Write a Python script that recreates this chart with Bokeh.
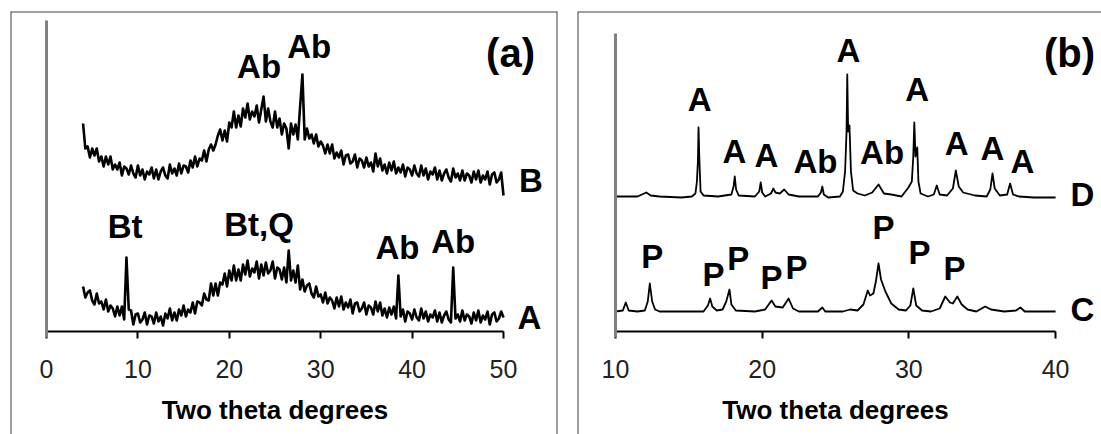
import numpy as np
from bokeh.plotting import figure
from bokeh.models import LinearAxis, FixedTicker, Range1d, ColumnDataSource, Span
from bokeh.layouts import row
from bokeh.embed import file_html
from bokeh.resources import INLINE
from bokeh.core.properties import value

FONT = "Liberation Sans"

# ---------------- panel (a) data ----------------
ticks_a = [0, 10, 20, 30, 40, 50]
# sample B, read every 0.25 degree from 4 to 50 (arbitrary intensity units)
int_B = [
    208, 183, 185, 174, 183, 176, 183, 170, 175, 165, 175, 167, 175, 162, 167, 162,
    169, 156, 165, 163, 157, 166, 158, 154, 166, 156, 162, 152, 160, 157, 164, 153,
    162, 152, 160, 164, 156, 153, 167, 158, 163, 156, 168, 158, 166, 165, 159, 171,
    164, 175, 165, 173, 171, 181, 170, 182, 187, 181, 187, 196, 202, 191, 201, 190,
    209, 204, 220, 204, 216, 205, 223, 214, 228, 212, 220, 215, 226, 209, 222, 235,
    210, 223, 210, 204, 220, 204, 213, 197, 208, 203, 183, 208, 197, 207, 192, 225,
    257, 192, 203, 193, 197, 188, 197, 185, 190, 186, 178, 187, 178, 187, 173, 179,
    174, 181, 167, 176, 177, 168, 170, 177, 164, 173, 171, 164, 174, 165, 169, 160,
    178, 165, 173, 161, 167, 158, 169, 161, 170, 158, 164, 159, 167, 155, 164, 162,
    156, 166, 158, 155, 166, 156, 163, 152, 160, 157, 164, 152, 161, 151, 158, 162,
    154, 150, 163, 154, 158, 151, 161, 151, 158, 156, 149, 160, 152, 161, 149, 156,
    152, 160, 147, 157, 159, 149, 152, 159, 136,
]
# sample A, same sampling
int_A = [
    45, 34, 39, 41, 31, 27, 38, 28, 30, 22, 32, 20, 26, 23, 15, 25,
    16, 25, 12, 74, 22, 21, 7, 17, 18, 9, 12, 19, 7, 16, 15, 8,
    19, 10, 15, 6, 18, 13, 23, 11, 19, 11, 22, 16, 26, 15, 22, 19,
    29, 18, 30, 29, 26, 38, 32, 31, 48, 36, 48, 36, 49, 47, 58, 45,
    61, 51, 66, 51, 62, 51, 67, 57, 71, 55, 63, 59, 70, 53, 67, 56,
    69, 58, 61, 70, 53, 64, 62, 52, 64, 49, 81, 51, 61, 49, 66, 42,
    52, 40, 46, 48, 38, 34, 45, 35, 37, 29, 39, 28, 34, 31, 23, 34,
    25, 35, 22, 29, 24, 32, 18, 28, 29, 20, 23, 29, 17, 26, 24, 17,
    30, 20, 29, 16, 23, 14, 24, 17, 25, 13, 56, 15, 22, 10, 20, 18,
    12, 22, 14, 11, 23, 13, 20, 10, 17, 14, 21, 10, 19, 9, 16, 20,
    12, 9, 64, 13, 17, 10, 21, 11, 17, 15, 8, 19, 11, 21, 9, 16,
    12, 20, 7, 17, 19, 10, 13, 20, 14,
]
two_theta_a = np.linspace(4, 50, len(int_B))

peak_a_text = ["Ab", "Ab", "Bt", "Bt,Q", "Ab", "Ab", "B", "A"]
peak_a_x = [23.26, 28.75, 8.6, 23.26, 38.4, 44.5, 53.0, 52.85]
peak_a_y = [265, 285, 105, 107, 84, 90, 151, 14]

# ---------------- panel (b) data ----------------
ticks_b = [10, 20, 30, 40]
two_theta_D = [10.0, 11.5, 11.8, 12.1, 12.4, 13.0, 14.5, 15.2, 15.45, 15.55, 15.62, 15.66, 15.72,
               15.8, 16.0, 17.0, 17.9, 18.05, 18.13, 18.22, 18.4, 19.5, 19.8, 19.9, 20.0, 20.2,
               20.6, 20.76, 20.9, 21.2, 21.5, 21.8, 22.5, 23.8, 24.0, 24.1, 24.2, 24.5, 25.3,
               25.5, 25.65, 25.75, 25.8, 25.86, 25.95, 26.05, 26.2, 26.5, 27.0, 27.5, 27.93,
               28.3, 28.8, 29.5, 29.97, 30.2, 30.3, 30.37, 30.45, 30.57, 30.65, 30.8, 31.3,
               31.7, 31.9, 32.1, 32.6, 33.0, 33.2, 33.4, 33.7, 34.5, 35.3, 35.55, 35.7, 35.85,
               36.2, 36.7, 36.9, 37.1, 37.5, 38.5, 40.0]
int_D = [135, 135, 137, 139, 136, 135, 134, 135, 138, 150, 171, 204, 171,
         140, 136, 135, 137, 145, 155, 142, 136, 135, 140, 149, 139, 135,
         138, 143, 139, 138, 142, 137, 135, 135, 139, 145, 137, 134, 135,
         140, 160, 200, 257, 200, 206, 160, 141, 138, 136, 139, 147,
         138, 137, 135, 144, 150, 175, 209, 175, 184, 150, 138, 135,
         137, 146, 137, 136, 143, 161, 145, 139, 136, 135, 142, 158, 143,
         136, 137, 148, 137, 135, 134, 134]
two_theta_C = [10.0, 10.5, 10.7, 10.9, 11.5, 12.0, 12.2, 12.34, 12.5, 12.7, 13.0, 16.0, 16.3,
               16.45, 16.6, 16.9, 17.3, 17.55, 17.77, 17.9, 18.2, 19.5, 20.2, 20.64, 20.9,
               21.4, 21.8, 22.1, 22.5, 23.8, 24.1, 24.3, 25.5, 26.0, 26.5, 26.9, 27.2, 27.35,
               27.58, 27.75, 27.93, 28.1, 28.4, 28.8, 29.3, 29.8, 30.1, 30.3, 30.5, 30.9,
               31.5, 32.1, 32.48, 32.8, 33.0, 33.3, 33.6, 34.0, 34.6, 35.2, 35.6, 36.5,
               37.3, 37.6, 37.9, 40.0]
int_C = [20, 21, 29, 21, 20, 21, 30, 48, 30, 22, 20, 20, 26,
         33, 25, 21, 22, 30, 42, 27, 21, 20, 22, 31, 25,
         24, 33, 23, 20, 20, 24, 20, 20, 22, 21, 27, 41, 36,
         38, 50, 68, 52, 40, 28, 22, 21, 26, 43, 26, 21,
         20, 23, 35, 29, 28, 35, 27, 22, 20, 25, 22, 20,
         21, 24, 20, 20]

peak_b_text = ["A", "A", "A", "Ab", "A", "Ab", "A", "A", "A", "A", "D",
               "P", "P", "P", "P", "P", "P", "P", "P", "C"]
peak_b_x = [15.73, 18.11, 20.29, 23.63, 25.88, 28.17, 30.57, 33.25, 35.70, 37.74, 41.83,
            12.51, 16.68, 18.36, 20.63, 22.34, 28.27, 30.72, 33.11, 41.83]
peak_b_y = [232, 180, 176, 170, 281, 179, 242, 188, 183, 170, 137,
            75, 57, 73, 54, 64, 104, 79, 63, 22]

axis_title = "Two theta degrees"

Y_RANGE = (-103, 320)
BOX = "#404040"


def make_panel(width, mb_left, mb_right, xr, ticks, y_axis_x, y_axis_top, series, lw,
               lbl_text, lbl_x, lbl_y, tag, tag_x, tag_y, right_edge):
    p = figure(width=width, height=434, x_range=Range1d(*xr), y_range=Range1d(*Y_RANGE),
               x_axis_type=None, y_axis_type=None, toolbar_location=None,
               output_backend="svg", min_border_left=mb_left, min_border_right=mb_right,
               min_border_top=11, min_border_bottom=0)
    p.outline_line_color = None
    p.background_fill_color = "white"
    p.border_fill_color = "white"

    # panel box: left, top (and right) edges only; it continues below the picture
    p.add_layout(Span(location=xr[0], dimension="height", line_color=BOX, line_width=2))
    p.add_layout(Span(location=Y_RANGE[1], dimension="width", line_color=BOX, line_width=2))
    if right_edge:
        p.add_layout(Span(location=xr[1], dimension="height", line_color=BOX, line_width=2))

    xa = LinearAxis(fixed_location=0, bounds=(ticks[0], ticks[-1]),
                    ticker=FixedTicker(ticks=ticks), axis_label=axis_title)
    xa.axis_line_color = "black"
    xa.axis_line_width = 2
    xa.major_tick_line_color = "black"
    xa.major_tick_line_width = 2
    xa.major_tick_out = 7
    xa.major_tick_in = 0
    xa.minor_tick_line_color = None
    xa.major_label_text_font = FONT
    xa.major_label_text_font_size = "25px"
    xa.major_label_text_color = "#222222"
    xa.major_label_standoff = 21
    xa.axis_label_text_font = FONT
    xa.axis_label_text_font_size = "26px"
    xa.axis_label_text_font_style = "bold"
    xa.axis_label_text_color = "black"
    xa.axis_label_standoff = 14
    p.add_layout(xa, "below")

    ya = LinearAxis(fixed_location=y_axis_x, bounds=(-6, y_axis_top), ticker=FixedTicker(ticks=[]))
    ya.axis_line_color = "#808080"
    ya.axis_line_width = 3
    ya.major_tick_line_color = None
    ya.minor_tick_line_color = None
    ya.major_label_text_font_size = "0px"
    p.add_layout(ya, "left")

    for xs, ys in series:
        p.line(xs, ys, line_color="black", line_width=lw, line_join="round")

    src = ColumnDataSource(dict(x=lbl_x, y=lbl_y, t=lbl_text))
    p.text(x="x", y="y", text="t", source=src, text_font=value(FONT), text_font_style="bold",
           text_font_size="33px", text_align="center", text_baseline="middle", text_color="black")
    p.text(x=[tag_x], y=[tag_y], text=[tag], text_font=value(FONT), text_font_style="bold",
           text_font_size="40px", text_align="center", text_baseline="middle", text_color="black")
    return p


pa = make_panel(576, 10, 19, (-3.939, 55.91), ticks_a, 0, 311,
                [(two_theta_a, int_B), (two_theta_a, int_A)], 2.6,
                peak_a_text, peak_a_x, peak_a_y, "(a)", 50.77, 279, True)
pb = make_panel(525, 1, 0, (7.41, 43.13), ticks_b, 10, 298,
                [(two_theta_D, int_D), (two_theta_C, int_C)], 1.8,
                peak_b_text, peak_b_x, peak_b_y, "(b)", 40.95, 279, False)

layout = row(pa, pb)
open("out.html", "w").write(file_html(layout, INLINE))
